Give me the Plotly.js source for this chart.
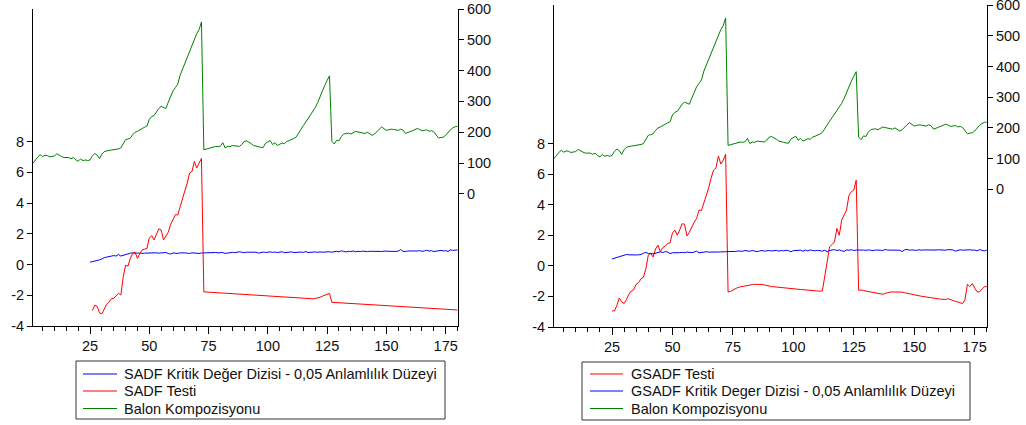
<!DOCTYPE html>
<html>
<head>
<meta charset="utf-8">
<script src="https://cdn.plot.ly/plotly-3.0.1.min.js"></script>
<style>
  html, body { margin:0; padding:0; background:#fff; width:1026px; height:425px; overflow:hidden; }
  #left { position:absolute; left:0; top:0; width:513px; height:425px; }
  #right { position:absolute; left:513px; top:0; width:513px; height:425px; }
</style>
</head>
<body>
<div id="left"></div>
<div id="right"></div>
<script>
// ---- DATA ----
// Balon Kompozisyonu (observations 1..180)
const balon = [100,112,120,127,121,125,124,120,121,123,
130,125,121,118,117,118,114,118,110,106,
113,108,110,108,110,124,131,126,114,129,
137,140,141,142,143,144,146,149,162,176,
178,181,192,200,203,209,212,216,220,242,
251,254,266,277,284,281,277,297,316,334,
345,356,385,405,420,445,462,485,506,520,
533,558,143,145,148,150,153,154,153,155,
166,149,154,153,157,156,155,154,160,170,
172,168,163,157,154,153,151,150,164,168,
173,160,166,157,160,165,163,170,173,176,
180,185,198,212,222,233,245,257,266,280,
296,316,330,352,368,383,170,162,174,172,
186,194,196,197,194,198,203,201,199,197,
196,200,196,190,194,203,210,217,211,206,
208,210,209,207,206,210,207,196,198,202,
205,209,212,209,205,206,208,203,205,201,
190,181,183,184,190,200,208,214,218,219];

// SADF critical value sequence (observations 25..180)
const sadfKritikStart = 25;
const sadfKritik = [0.15,0.18,0.20,0.24,0.30,0.36,0.45,0.48,0.50,0.52,
0.58,0.55,0.65,0.55,0.60,0.68,0.72,0.74,0.75,0.73,
0.74,0.75,0.72,0.74,0.75,0.74,0.75,0.74,0.76,0.74,
0.75,0.73,0.78,0.72,0.68,0.75,0.74,0.72,0.76,0.73,
0.75,0.74,0.72,0.76,0.73,0.74,0.72,0.75,0.76,0.78,
0.77,0.79,0.77,0.78,0.76,0.77,0.78,0.72,0.75,0.78,
0.79,0.77,0.80,0.83,0.80,0.77,0.80,0.79,0.82,0.78,
0.80,0.74,0.79,0.81,0.78,0.80,0.82,0.79,0.81,0.78,
0.80,0.83,0.77,0.80,0.79,0.82,0.78,0.80,0.82,0.81,
0.79,0.84,0.78,0.80,0.83,0.82,0.79,0.82,0.80,0.82,
0.80,0.83,0.80,0.84,0.86,0.82,0.90,0.85,0.82,0.86,
0.84,0.88,0.83,0.86,0.84,0.87,0.85,0.84,0.86,0.85,
0.87,0.84,0.86,0.85,0.87,0.86,0.85,0.88,0.86,0.85,
0.87,0.97,0.86,0.84,0.88,0.87,0.89,0.86,0.88,0.90,
0.86,0.88,0.93,0.87,0.90,0.84,0.88,0.90,0.92,0.88,
0.90,0.85,0.95,0.92,0.96,0.95];

// SADF test (observations 26..180)
const sadfTestStart = 26;
const sadfTest = [-3.0,-2.65,-2.72,-3.15,-3.2,-2.9,-2.6,-2.45,-2.22,-2.2,
-2.05,-1.87,-1.98,-0.8,-0.05,-0.1,0.4,0.72,0.8,0.4,
0.7,0.95,1.0,1.05,1.72,1.88,1.6,2.0,2.32,2.25,
1.6,1.85,2.1,2.6,2.95,3.25,3.22,3.8,4.3,4.8,
5.3,5.95,6.05,6.7,6.28,6.6,6.9,-1.78,-1.79,-1.8,
-1.81,-1.82,-1.83,-1.84,-1.85,-1.86,-1.87,-1.88,-1.89,-1.9,
-1.91,-1.92,-1.93,-1.94,-1.95,-1.96,-1.97,-1.98,-1.99,-2.0,
-2.01,-2.02,-2.03,-2.04,-2.05,-2.06,-2.07,-2.08,-2.09,-2.1,
-2.11,-2.12,-2.13,-2.15,-2.16,-2.17,-2.19,-2.2,-2.21,-2.22,
-2.23,-2.24,-2.24,-2.23,-2.21,-2.18,-2.13,-2.06,-2.0,-1.94,
-1.88,-2.46,-2.47,-2.48,-2.49,-2.5,-2.51,-2.52,-2.53,-2.54,
-2.55,-2.56,-2.57,-2.58,-2.58,-2.59,-2.6,-2.61,-2.62,-2.63,
-2.64,-2.65,-2.66,-2.67,-2.68,-2.69,-2.7,-2.71,-2.72,-2.72,
-2.73,-2.74,-2.75,-2.76,-2.77,-2.78,-2.79,-2.8,-2.81,-2.82,
-2.83,-2.84,-2.85,-2.86,-2.86,-2.87,-2.88,-2.89,-2.9,-2.91,
-2.92,-2.93,-2.94,-2.95,-2.96];

// GSADF test (observations 25..180)
const gsadfTestStart = 25;
const gsadfTest = [-2.95,-2.95,-2.6,-2.1,-2.36,-2.47,-2.2,-1.85,-1.65,-1.55,
-1.2,-1.1,-0.85,-0.75,-0.2,0.7,0.8,0.58,1.1,1.35,
0.92,1.2,1.3,1.45,1.5,2.15,2.33,2.0,2.35,2.75,
2.72,1.95,2.2,2.55,2.85,3.1,3.65,3.62,4.1,4.5,
5.1,5.75,6.26,6.4,7.17,6.65,6.9,7.3,-1.71,-1.67,
-1.58,-1.5,-1.42,-1.38,-1.34,-1.3,-1.27,-1.25,-1.23,-1.21,
-1.2,-1.21,-1.22,-1.25,-1.3,-1.33,-1.36,-1.37,-1.39,-1.4,
-1.42,-1.44,-1.46,-1.47,-1.49,-1.51,-1.53,-1.54,-1.55,-1.56,
-1.58,-1.6,-1.61,-1.62,-1.64,-1.65,-1.66,-1.64,-0.6,0.35,
1.24,1.4,1.56,2.44,2.0,3.0,3.3,3.64,4.6,4.85,
4.95,5.6,-1.6,-1.58,-1.62,-1.65,-1.68,-1.71,-1.74,-1.77,
-1.8,-1.83,-1.86,-1.8,-1.75,-1.72,-1.71,-1.71,-1.71,-1.71,
-1.72,-1.76,-1.8,-1.83,-1.86,-1.9,-1.93,-1.96,-1.99,-2.02,
-2.05,-2.07,-2.1,-2.12,-2.14,-2.16,-2.18,-2.2,-2.2,-2.15,
-2.22,-2.28,-2.32,-2.36,-2.4,-2.47,-2.2,-1.2,-1.36,-1.16,
-1.45,-1.7,-1.7,-1.5,-1.37,-1.35];

// GSADF critical value sequence (observations 25..180)
const gsadfKritikStart = 25;
const gsadfKritik = [0.45,0.50,0.55,0.60,0.62,0.65,0.74,0.72,0.70,0.72,
0.71,0.72,0.74,0.82,0.88,0.80,0.82,0.78,0.82,0.88,
0.91,0.87,0.93,0.90,0.80,0.85,0.84,0.87,0.86,0.88,
0.86,0.90,0.88,0.86,0.90,0.96,0.85,0.89,0.90,0.92,
0.90,0.89,0.92,0.91,0.90,0.91,0.90,0.92,0.93,0.92,
0.95,0.94,0.97,0.96,0.95,1.00,0.97,0.95,1.00,0.98,
0.93,0.97,1.00,0.96,0.98,1.00,0.97,0.99,1.01,0.96,
1.00,0.98,1.02,0.99,0.92,0.99,1.00,0.97,1.02,0.95,
1.03,0.98,1.04,1.00,0.98,1.01,1.00,0.96,1.02,0.92,
1.00,1.03,1.06,1.00,1.04,0.98,0.94,1.04,1.02,1.05,
1.00,1.03,1.04,1.02,1.03,1.01,1.04,1.02,1.00,1.03,
1.04,1.02,1.00,1.07,1.03,1.02,1.04,1.00,1.03,1.02,
0.93,1.04,1.07,1.02,1.04,1.03,1.01,1.05,1.02,1.04,
1.03,1.06,1.02,1.04,1.03,1.05,1.03,1.04,1.02,1.06,
1.03,1.04,0.96,1.03,1.05,1.02,1.04,1.03,1.05,1.02,
1.03,0.98,1.06,1.02,0.97,1.03];

const leftTicks = [-4, -2, 0, 2, 4, 6, 8];
const rightTicks = [0, 100, 200, 300, 400, 500, 600];
const xTickStep = 25;
const xMinorStep = 5;

const names = {
  sadfKritik: 'SADF Kritik Değer Dizisi - 0,05 Anlamlılık Düzeyi',
  sadfTest: 'SADF Testi',
  gsadfTest: 'GSADF Testi',
  gsadfKritik: 'GSADF Kritik Deger Dizisi - 0,05 Anlamlılık Düzeyi',
  balon: 'Balon Kompozisyonu'
};

// ---- helpers ----
const idxFrom = (start, arr) => arr.map((_, i) => start + i);
const RED = '#ff0000', BLUE = '#0000ff', GREEN = '#008000';
const FONT = 'Liberation Sans, Arial, sans-serif';
const FS = 14.5;
const DIVW = 513, DIVH = 425;

function line(name, start, arr, color, yaxis) {
  return { type:'scatter', mode:'lines', name:name, x: idxFrom(start, arr), y: arr,
           yaxis: yaxis, line:{color:color, width:1}, hoverinfo:'skip', showlegend:false };
}

// o: margins, ranges, legend box (div pixel coords) and legend items
function makeLayout(o) {
  const pw = DIVW - o.l - o.r, ph = DIVH - o.t - o.b;
  const px = v => (v - o.l) / pw;            // div x pixel -> paper
  const py = v => (DIVH - o.b - v) / ph;     // div y pixel -> paper
  const axisCommon = { showline:true, linecolor:'#000', linewidth:1, showgrid:false, zeroline:false,
                       ticks:'outside', tickcolor:'#000', tickwidth:1,
                       tickfont:{family:FONT, size:FS, color:'#111'} };
  const lg = o.legend;
  const shapes = [{type:'rect', xref:'paper', yref:'paper', x0:px(lg.x0), x1:px(lg.x1), y0:py(lg.y0), y1:py(lg.y1),
                   line:{color:'#333', width:1}, fillcolor:'rgba(0,0,0,0)', layer:'above'}];
  const annotations = [];
  lg.items.forEach((it, k) => {
    const yy = lg.rows[k];
    shapes.push({type:'line', xref:'paper', yref:'paper', x0:px(lg.lineX0), x1:px(lg.lineX1), y0:py(yy), y1:py(yy),
                 line:{color:it.color, width:1}, layer:'above'});
    annotations.push({xref:'paper', yref:'paper', x:px(lg.textX), y:py(yy), xanchor:'left', yanchor:'middle',
                      text:it.name, showarrow:false, borderpad:0,
                      font:{family:FONT, size:FS, color:'#111'}});
  });
  return {
    width:DIVW, height:DIVH,
    margin:{l:o.l, r:o.r, t:o.t, b:o.b, pad:0, autoexpand:false},
    paper_bgcolor:'#fff', plot_bgcolor:'#fff',
    font:{family:FONT, size:FS, color:'#111'},
    showlegend:false,
    shapes:shapes, annotations:annotations,
    xaxis: Object.assign({}, axisCommon, {range:o.xr, tick0:0, dtick:xTickStep, ticklen:7,
            minor:{tick0:0, dtick:xMinorStep, ticks:'outside', ticklen:4, tickcolor:'#000', showgrid:false}}),
    yaxis: Object.assign({}, axisCommon, {range:o.yr, tickmode:'array', tickvals:leftTicks,
            ticktext:leftTicks.map(String), ticklen:5}),
    yaxis2: Object.assign({}, axisCommon, {range:o.y2r, overlaying:'y', side:'right', tickmode:'array',
            tickvals:rightTicks, ticktext:rightTicks.map(String), ticklen:5, ticklabeloverflow:'allow'})
  };
}

const cfg = {displayModeBar:false, staticPlot:true};

const leftItems = [
  {name:names.sadfKritik, color:BLUE},
  {name:names.sadfTest, color:RED},
  {name:names.balon, color:GREEN}
];
const rightItems = [
  {name:names.gsadfTest, color:RED},
  {name:names.gsadfKritik, color:BLUE},
  {name:names.balon, color:GREEN}
];

Plotly.newPlot('left', [
  line(names.sadfKritik, sadfKritikStart, sadfKritik, BLUE, 'y'),
  line(names.sadfTest, sadfTestStart, sadfTest, RED, 'y'),
  line(names.balon, 1, balon, GREEN, 'y2')
], makeLayout({l:33, r:55, t:9, b:99, xr:[0.95, 180.2], yr:[-4, 16.62], y2r:[-429, 600],
  legend:{x0:76, x1:445, y0:361, y1:419, lineX0:83, lineX1:117, textX:123, rows:[374, 391, 408.5], items:leftItems}}), cfg);

Plotly.newPlot('right', [
  line(names.gsadfTest, gsadfTestStart, gsadfTest, RED, 'y'),
  line(names.gsadfKritik, gsadfKritikStart, gsadfKritik, BLUE, 'y'),
  line(names.balon, 1, balon, GREEN, 'y2')
], makeLayout({l:41, r:39, t:5, b:98, xr:[1.0, 180.1], yr:[-4, 17.05], y2r:[-448, 600],
  legend:{x0:69, x1:457, y0:362, y1:420, lineX0:77, lineX1:110, textX:117, rows:[374, 391, 408.5], items:rightItems}}), cfg);
</script>
</body>
</html>
